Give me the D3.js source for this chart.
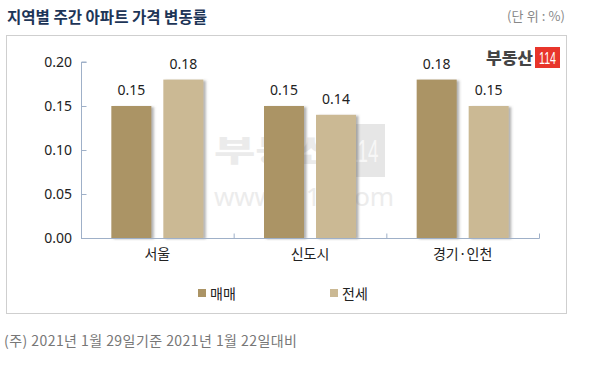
<!DOCTYPE html>
<html><head><meta charset="utf-8">
<script src="https://cdn.jsdelivr.net/npm/d3@7/dist/d3.min.js"></script>
<style>body{margin:0;background:#fff}svg{display:block;font-family:"Noto Sans CJK KR","Noto Sans",sans-serif}</style>
</head><body><svg id="c" width="589" height="366"></svg>
<script>
const categories = ["서울", "신도시", "경기·인천"];
const seriesNames = ["매매", "전세"];
const sale = [0.15, 0.15, 0.18];
const jeonse = [0.18, 0.14, 0.15];
const yTicks = [0, 0.05, 0.10, 0.15, 0.20];
const colors = ["#ab9465", "#cbb994"];

const svg = d3.select("#c");
const defs = svg.append("defs");
const f = defs.append("filter").attr("id","sh").attr("x","-20%").attr("y","-10%").attr("width","150%").attr("height","130%");
f.append("feDropShadow").attr("dx",2.5).attr("dy",1).attr("stdDeviation",1).attr("flood-color","#666").attr("flood-opacity",0.5);

// title
svg.append("text").attr("x",7).attr("y",23).attr("font-size",16).attr("font-weight",700).attr("fill","#1d3557").attr("textLength",200).attr("lengthAdjust","spacingAndGlyphs").text("지역별 주간 아파트 가격 변동률");
svg.append("text").attr("x",565).attr("y",21).attr("text-anchor","end").attr("font-size",13).attr("fill","#888").attr("textLength",58).text("(단 위 : %)");

// box
svg.append("rect").attr("x",6.5).attr("y",35.5).attr("width",560).attr("height",278).attr("fill","none").attr("stroke","#cfcfcf");

// watermark
const wm = svg.append("g");
wm.append("text").attr("x",214).attr("y",161).attr("font-size",30).attr("font-weight",900).attr("fill","#ebebeb").attr("textLength",124).attr("lengthAdjust","spacingAndGlyphs").text("부동산");
wm.append("rect").attr("x",342).attr("y",124).attr("width",43).attr("height",53).attr("fill","#e6e6e6");
wm.append("text").attr("x",363.5).attr("y",162).attr("text-anchor","middle").attr("font-size",32).attr("fill","#f7f7f7").attr("font-family","Liberation Sans Narrow, Liberation Sans, sans-serif").attr("textLength",30).attr("lengthAdjust","spacingAndGlyphs").text("114");
wm.append("text").attr("x",214).attr("y",206).attr("font-size",26).attr("fill","#ececec").attr("font-family","Noto Sans, sans-serif").attr("textLength",180).text("www.r114.com");

// logo
svg.append("text").attr("x",486).attr("y",64).attr("font-size",16).attr("font-weight",900).attr("fill","#444").attr("textLength",47).attr("lengthAdjust","spacingAndGlyphs").text("부동산");
svg.append("rect").attr("x",535).attr("y",47).attr("width",25).attr("height",21).attr("fill","#e8352b");
svg.append("text").attr("x",547.5).attr("y",63.5).attr("text-anchor","middle").attr("font-size",16).attr("fill","#fff").attr("font-family","Liberation Sans Narrow, Liberation Sans, sans-serif").attr("textLength",17).attr("lengthAdjust","spacingAndGlyphs").text("114");

const x0 = d3.scaleBand().domain(categories).range([81,539]).paddingInner(0).paddingOuter(0);
const y = d3.scaleLinear().domain([0,0.2]).range([238,62]);

const values = [sale, jeonse];
// bars
const g = svg.append("g");
categories.forEach((c,i)=>{
  const cx = x0(c) + x0.bandwidth()/2 - 46;
  seriesNames.forEach((s,j)=>{
    const v = values[j][i];
    const bx = cx + (j===0?0:52);
    g.append("rect").attr("x",bx).attr("y",y(v)).attr("width",40).attr("height",y(0)-y(v)).attr("fill",colors[j]).attr("filter","url(#sh)");
    g.append("text").attr("x",bx+20).attr("y",y(v)-11).attr("text-anchor","middle").attr("font-size",14).attr("fill","#222").attr("font-family","Noto Sans, sans-serif").text(v.toFixed(2));
  });
});

// y axis
const yAxis = d3.axisRight(y).tickValues(yTicks).tickSize(5).tickFormat("");
const ya = svg.append("g").attr("transform","translate(81.5,0)").call(yAxis);
ya.select(".domain").attr("stroke","#9fb0c8").attr("d","M5,62H0V238");
ya.selectAll("line").attr("stroke","#9fb0c8");
yTicks.forEach(t=>{
  svg.append("text").attr("x",72).attr("y",y(t)+5).attr("text-anchor","end").attr("font-size",14).attr("fill","#222").attr("font-family","Noto Sans, sans-serif").text(t.toFixed(2));
});

// x axis
const xa = svg.append("g").attr("transform","translate(0,238.5)");
xa.append("line").attr("x1",81).attr("x2",539.5).attr("stroke","#9fb0c8");
[x0.range()[0]+x0.bandwidth(), x0.range()[0]+2*x0.bandwidth(), 539].forEach(t=>{
  xa.append("line").attr("x1",t+0.5).attr("x2",t+0.5).attr("y1",0).attr("y2",-5).attr("stroke","#9fb0c8");
});
categories.forEach(c=>{
  svg.append("text").attr("x",x0(c)+x0.bandwidth()/2).attr("y",259).attr("text-anchor","middle").attr("font-size",14).attr("fill","#222").text(c);
});

// legend
const lx = [198, 330];
seriesNames.forEach((s,j)=>{
  svg.append("rect").attr("x",lx[j]).attr("y",289).attr("width",8).attr("height",8).attr("fill",colors[j]);
  svg.append("text").attr("x",lx[j]+12).attr("y",298.5).attr("font-size",14).attr("fill","#222").text(s);
});

// footnote
svg.append("text").attr("x",4).attr("y",346).attr("font-size",14).attr("fill","#777").attr("textLength",293).text("(주) 2021년 1월 29일기준 2021년 1월 22일대비");
</script></body></html>
